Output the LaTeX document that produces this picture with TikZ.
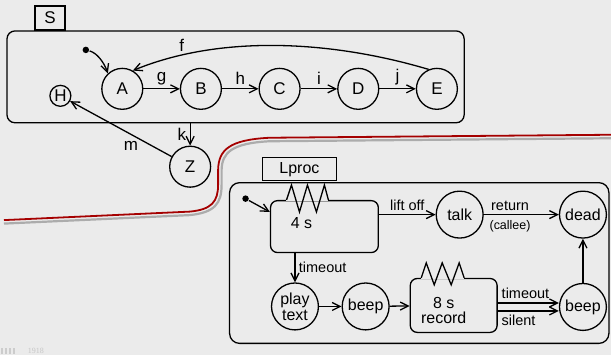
\documentclass[tikz,border=0pt]{standalone}
\usepackage{fontspec}
\setmainfont{Liberation Sans}
\usetikzlibrary{arrows.meta}
\usetikzlibrary{positioning}
\definecolor{bg}{RGB}{235,235,235}
\definecolor{wire}{RGB}{165,0,0}

\begin{document}
\begin{tikzpicture}[x=1pt,y=-1pt,line width=1.3pt,
  >={Straight Barb[length=8pt,width=8pt]},
  state/.style={circle,draw,inner sep=0pt,minimum size=41pt,font=\fontsize{17}{18}\selectfont},
  lstate/.style={circle,draw,inner sep=0pt,minimum size=47pt,align=center,font=\fontsize{16}{16}\selectfont},
  initdot/.style={circle,fill,inner sep=0pt,minimum size=6.5pt},
  tab/.style={rectangle,draw,inner sep=0pt,font=\fontsize{17}{18}\selectfont},
  lbl/.style={font=\fontsize{17}{18}\selectfont},
  slbl/.style={font=\fontsize{14.5}{15}\selectfont}]
\fill[bg] (0,0) rectangle (612,356);

% the wire
\draw[gray!65,line width=2.2pt] (4,224) -- (190,215.5) .. controls (215,213) and (222,204) .. (222,185) -- (222,170) .. controls (222.5,153) and (232,143.5) .. (270,141.5) -- (612,138.5);
\draw[wire,line width=1.8pt] (4,220.5) -- (190,212) .. controls (212,210) and (218.5,202) .. (218.5,185) -- (218.5,170) .. controls (219,150) and (230,140) .. (270,138) -- (612,135);

% S
\node[tab,minimum width=30pt,minimum height=24pt] (Stab) at (50,18) {S};
\node[draw,rounded corners=8pt,minimum width=458pt,minimum height=92pt] (Sbox) at (236,77) {};
\node[initdot] (i1) at (86,50) {};
\node[state] (A) at (122.5,89) {A};
\node[state,right=36.5pt of A] (B) {B};
\node[state,right=36.5pt of B] (C) {C};
\node[state,right=36.5pt of C] (D) {D};
\node[state,right=36.5pt of D] (E) {E};
\node[state,minimum size=21pt] (H) at (60.5,96) {H};
\node[state] (Z) at (190.5,167) {Z};

\draw[->] (i1) .. controls (97,53) and (104,62) .. (A.133);
\draw[->] (A) -- node[lbl,above] {g} (B);
\draw[->] (B) -- node[lbl,above] {h} (C);
\draw[->] (C) -- node[lbl,above] {i} (D);
\draw[->] (D) -- node[lbl,above] {j} (E);
\draw[->] (E.113) .. controls (330,40) and (220,35) .. node[lbl,pos=0.82,above] {f} (A.60);
\draw[->] (Sbox.south -| Z) -- node[lbl,left] {k} (Z);
\draw[->] (Z) -- node[lbl,pos=0.4,below=3pt] {m} (H);

% Lproc
\node[tab,minimum width=74pt,minimum height=23pt,font=\fontsize{16}{18}\selectfont] (Ltab) at (300,169.5) {Lproc};
\node[draw,rounded corners=10pt,minimum width=380pt,minimum height=161pt] (Lbox) at (420,263.5) {};
\node[initdot] (i2) at (246,199) {};
\node[draw,rounded corners=7pt,minimum width=108pt,minimum height=52pt] (wait) at (325,227) {};
\node[font=\fontsize{16}{18}\selectfont] (waittxt) at (302,223) {4 s};
\draw[bg,line width=2.8pt] ([xshift=-38pt]wait.north) -- ([xshift=4pt]wait.north);
\draw[line join=miter] ([xshift=-38pt]wait.north) -- ++(5,-15) -- ++(8,27) -- ++(8,-27) -- ++(9,27) -- ++(8,-27) -- ++(4,15);
\node[lstate] (talk) at (460.5,215) {talk};
\node[lstate] (dead) at (584,215) {dead};
\node[lstate] (play) at (295.5,307) {play\\text};
\node[lstate,right=22.5pt of play] (beep1) {beep};
\node[draw,rounded corners=7pt,minimum width=87pt,minimum height=54pt] (rec) at (454.5,306) {};
\node[align=center,font=\fontsize{16}{15}\selectfont] (rectxt) at (444.5,311.5) {8 s\\record};
\draw[bg,line width=2.8pt] ([xshift=-32.5pt]rec.north) -- ([xshift=10.5pt]rec.north);
\draw[line join=miter] ([xshift=-32.5pt]rec.north) -- ++(5,-15) -- ++(8,22) -- ++(8,-22) -- ++(9,22) -- ++(8,-22) -- ++(5,15);
\node[lstate] (beep2) at (584,307.5) {beep};
\coordinate (b2up) at ([yshift=4pt]beep2.west);
\coordinate (b2dn) at ([yshift=-4pt]beep2.west);

\draw[->] (i2) -- (wait.165);
\draw[->] (wait.east |- talk) -- node[slbl,above] {lift off} (talk);
\draw[->] (talk) -- node[slbl,pos=0.35,above] {return} node[pos=0.35,below=2pt,font=\fontsize{12.5}{13}\selectfont] {(callee)} (dead);
\draw[->] (wait.south -| play) -- node[slbl,right] {timeout} (play);
\draw[->] (play) -- (beep1);
\draw[->] (beep1) -- (rec);
\draw[->] (rec.east |- b2up) -- node[slbl,pos=0,above right] {timeout} (b2up);
\draw[->] (rec.east |- b2dn) -- node[slbl,pos=0,below right] {silent} (b2dn);
\draw[->] (beep2) -- (dead);

% corner mark
\foreach \bx in {1,5,9,13} \fill[gray!40] (\bx,349) rectangle ++(2.5,6);
\node[text=gray!45,font=\fontspec{Liberation Serif}\fontsize{8}{8}\selectfont] (mark) at (36,352) {1918};
\end{tikzpicture}
\end{document}
